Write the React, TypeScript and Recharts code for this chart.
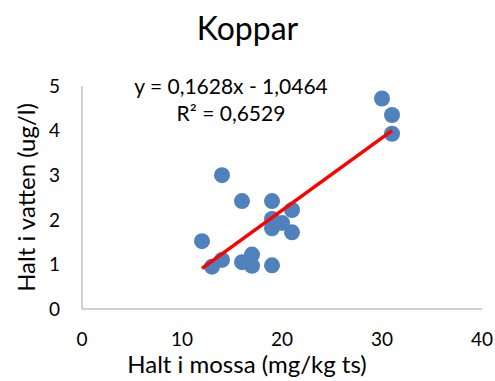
import { ScatterChart, Scatter, XAxis, YAxis } from "recharts"

// Halt i mossa (mg/kg ts) vs halt i vatten (ug/l)
const mossa = [14, 16, 19, 21, 19, 20, 19, 21, 12, 14, 13, 17, 16, 17, 19, 30, 31, 31]
const vatten = [3.0, 2.42, 2.42, 2.22, 2.02, 1.93, 1.81, 1.72, 1.52, 1.1, 0.95, 1.22, 1.05, 0.97, 0.98, 4.72, 4.35, 3.93]

// linjär trendlinje, ändpunkter avlästa
const trendX = [12, 31]
const trendY = [0.91, 4.0]

const xTicks = [0, 10, 20, 30, 40]
const yTicks = [0, 1, 2, 3, 4, 5]

const points = mossa.map((x, i) => ({ x, y: vatten[i] }))
const trend = trendX.map((x, i) => ({ x, y: trendY[i] }))

const font = "Lato, 'Open Sans', sans-serif"
const axisColor = "#BFBFBF"

const YTitle = (props: any) => {
  const vb = props.viewBox || { y: 86, height: 223 }
  const cx = 25
  const cy = vb.y + vb.height / 2
  return (
    <text
      x={cx}
      y={cy}
      transform={`rotate(-90, ${cx}, ${cy})`}
      textAnchor="middle"
      dominantBaseline="central"
      fontSize={24}
      fontFamily={font}
      fill="#000"
    >
      Halt i vatten (ug/l)
    </text>
  )
}

const XTitle = () => (
  <text x={247} y={373} textAnchor="middle" fontSize={24} fontFamily={font} fill="#000">
    Halt i mossa (mg/kg ts)
  </text>
)

export default function App() {
  return (
    <div style={{ position: "absolute", left: 0, top: 0, width: 495, height: 381, background: "#fff", fontFamily: font }}>
      <div style={{ position: "absolute", left: 0, width: 495, top: 8, textAlign: "center", fontSize: 32, lineHeight: "40px", color: "#000" }}>
        Koppar
      </div>
      <div style={{ position: "absolute", left: 131, width: 200, top: 72, textAlign: "center", fontSize: 21, lineHeight: "27px", color: "#000", whiteSpace: "nowrap" }}>
        <div>y = 0,1628x - 1,0464</div>
        <div>R² = 0,6529</div>
      </div>
      <ScatterChart width={495} height={381} margin={{ top: 86, right: 13, left: 0, bottom: 0 }} style={{ position: "absolute", left: 0, top: 0 }}>
        <XAxis
          type="number"
          dataKey="x"
          domain={[0, 40]}
          ticks={xTicks}
          height={72}
          tickLine={false}
          tickSize={0}
          tickMargin={24}
          axisLine={{ stroke: axisColor, strokeWidth: 1.5 }}
          tick={{ fontSize: 19, fill: "#000", fontFamily: font }}
          label={<XTitle />}
        />
        <YAxis
          type="number"
          dataKey="y"
          domain={[0, 5]}
          ticks={yTicks}
          width={82}
          tickLine={false}
          tickSize={0}
          tickMargin={22}
          axisLine={{ stroke: axisColor, strokeWidth: 1.5 }}
          tick={{ fontSize: 19, fill: "#000", fontFamily: font }}
          label={<YTitle />}
        />
        <Scatter
          data={points}
          fill="#4F81BD"
          isAnimationActive={false}
          shape={(p: any) => <circle cx={p.cx} cy={p.cy} r={8} fill="#4F81BD" />}
        />
        <Scatter
          data={trend}
          line={{ stroke: "#FF0000", strokeWidth: 3.5 }}
          lineType="joint"
          isAnimationActive={false}
          shape={() => <g />}
        />
      </ScatterChart>
    </div>
  )
}
